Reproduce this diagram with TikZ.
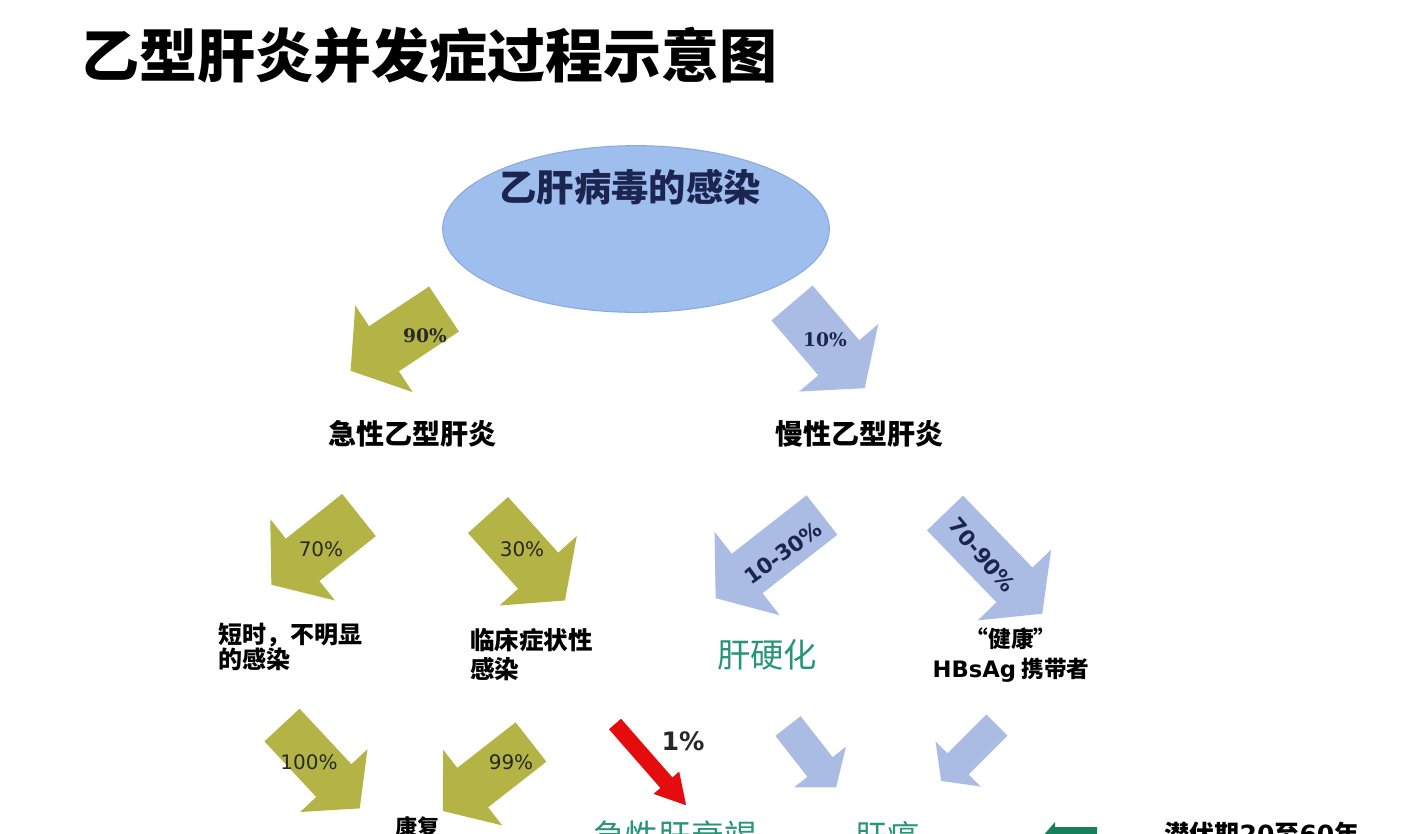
\documentclass[tikz,border=0pt]{standalone}
\usepackage{fontspec}
\setmainfont{DejaVu Sans}
\newfontfamily\cjk{Noto Sans CJK SC}
\newfontfamily\dvs{DejaVu Sans}
\newfontfamily\dvserif{DejaVu Serif}
\usetikzlibrary{shapes.geometric}
\definecolor{arrOlive}{RGB}{180,180,70}
\definecolor{arrBlue}{RGB}{170,188,228}
\definecolor{ellBlue}{RGB}{158,190,238}
\definecolor{ellEdge}{RGB}{140,170,220}
\definecolor{arrRed}{RGB}{228,12,12}
\definecolor{arrGreen}{RGB}{22,128,92}
\definecolor{tealText}{RGB}{40,150,118}
\definecolor{navyText}{RGB}{28,36,80}
\definecolor{darkText}{RGB}{40,40,40}
% #1 origin coordinate (back centre), #2 angle, #3 fill, #4 body half width,
% #5 body length, #6 head half width, #7 head length
\newcommand\barrow[7]{\begin{scope}[shift={(#1)},rotate=#2]
  \fill[#3] (0,#4) -- (#5,#4) -- (#5,#6) -- ({#5+#7},0) -- (#5,-#6) -- (#5,-#4) -- (0,-#4) -- cycle;
\end{scope}}
\begin{document}
\begin{tikzpicture}[x=0.75pt,y=-0.75pt,
  every node/.style={inner sep=0pt, outer sep=0pt},
  zhb/.style={font={\cjk\bfseries\fontsize{#1}{#1}\selectfont}},
  pct/.style={font={\dvs\fontsize{15pt}{15pt}\selectfont}, text=darkText},
  pctser/.style={font={\dvserif\bfseries\fontsize{14pt}{14pt}\selectfont}},
  pctrot/.style={font={\dvs\bfseries\fontsize{16pt}{16pt}\selectfont}, text=navyText},
  outcome/.style={font={\cjk\fontsize{#1}{#1}\selectfont}, text=tealText}]
\useasboundingbox (0,0) rectangle (1412,833);
\clip (0,0) rectangle (1412,833);
\fill[white] (0,0) rectangle (1412,833);

% title
\node[zhb=43.5pt] (title) at (429,55) {乙型肝炎并发症过程示意图};

% infection ellipse
\node[ellipse, fill=ellBlue, draw=ellEdge, line width=0.8pt,
      minimum width=290pt, minimum height=125pt] (inf) at (636,229) {};
\node[zhb=28pt, text=navyText] (inftxt) at (630,187) {乙肝病毒的感染};

% arrow anchor points
\coordinate (a90) at (444,309);
\coordinate (a10) at (792,303);
\coordinate (a70) at (359,515);
\coordinate (a30) at (488,515);
\coordinate (a1030) at (822,515);
\coordinate (a7090) at (945,513);
\coordinate (a100) at (282,725);
\coordinate (a99) at (531,742);
\coordinate (ared) at (615,724);
\coordinate (ab1) at (788,726);
\coordinate (ab2) at (997,725);
\coordinate (agr) at (1097,845);

% block arrows
\barrow{a90}{213.5}{arrOlive}{27}{72}{52}{40}
\barrow{a10}{-49.5}{arrBlue}{27}{72}{52}{40}
\barrow{a70}{218.5}{arrOlive}{27}{72}{52}{40}
\barrow{a30}{-48}{arrOlive}{27}{75}{52}{40}
\barrow{a1030}{218}{arrBlue}{25}{95}{53}{40}
\barrow{a7090}{-46}{arrBlue}{25}{100}{51}{40}
\barrow{a100}{-47}{arrOlive}{24}{76}{46}{38}
\barrow{a99}{218}{arrOlive}{25}{74}{48}{38}
\barrow{ared}{-48.8}{arrRed}{8}{78}{17}{30}
\barrow{ab1}{-52}{arrBlue}{16}{52}{33}{26}
\barrow{ab2}{225}{arrBlue}{15}{55}{32}{24}
\barrow{agr}{180}{arrGreen}{18}{42}{23}{20}

% percentage labels
\node[pctser, text=darkText] (l90) at (425,336) {90\%};
\node[pctser, text=navyText] (l10) at (825,340) {10\%};
\node[pct] (l70) at (321,549) {70\%};
\node[pct] (l30) at (522,549) {30\%};
\node[pctrot, rotate=36] (l1030) at (783,553) {10-30\%};
\node[pctrot, rotate=-50] (l7090) at (982,555) {70-90\%};
\node[pct] (l100) at (309,762) {100\%};
\node[pct] (l99) at (511,762) {99\%};
\node[font={\dvs\bfseries\fontsize{19pt}{19pt}\selectfont}, text=darkText] (l1) at (683,741) {1\%};

% stage texts
\node[zhb=21pt] (acute) at (412,434) {急性乙型肝炎};
\node[zhb=21pt] (chronic) at (859,434) {慢性乙型肝炎};
\node[font={\cjk\bfseries\fontsize{18pt}{18pt}\selectfont}, align=left, anchor=west] (short) at (218,647) {短时，不明显\\的感染};
\node[font={\cjk\bfseries\fontsize{18.4pt}{21.75pt}\selectfont}, align=left, anchor=west] (clin) at (470,654) {临床症状性\\感染};
\node[outcome=25pt] (cirr) at (767,655) {肝硬化};
\node[font={\cjk\bfseries\fontsize{17pt}{22.5pt}\selectfont}, align=center] (carrier) at (1011,655) {“健康”\\{\dvs\bfseries HBsAg} 携带者};
\node[zhb=16.5pt] (recov) at (417,827) {康复};
\node[outcome=24.6pt] (fail) at (675,836) {急性肝衰竭};
\node[outcome=24pt] (canc) at (887,836) {肝癌};
\node[zhb=18.75pt] (latent) at (1262,834) {潜伏期{\dvs\bfseries 20}至{\dvs\bfseries 60}年};
\end{tikzpicture}
\end{document}
